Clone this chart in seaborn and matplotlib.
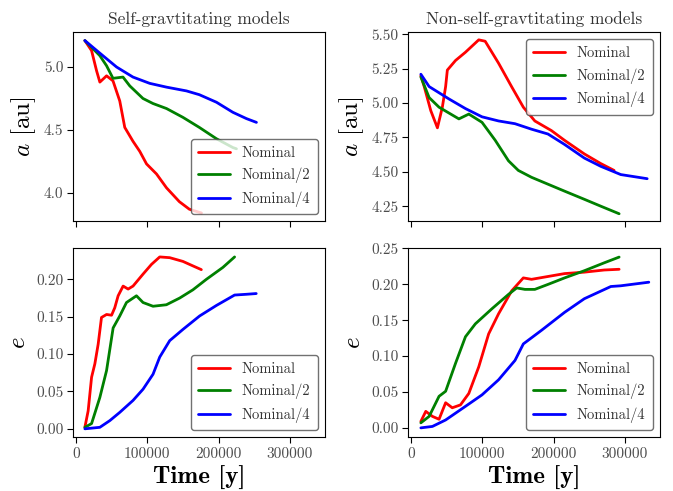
import numpy as np
import pandas as pd
import matplotlib
matplotlib.use('Agg')
import matplotlib.pyplot as plt
import seaborn as sns

# ---- data ----
labels = ['Nominal', 'Nominal/2', 'Nominal/4']
colors = ['red', 'green', 'blue']

# Self-gravitating, semi-major axis
sg_a_t_nom = [12600, 22000, 29000, 33600, 43000, 52000, 61500, 68500, 80000, 89500,
              99000, 113000, 127000, 145000, 159000, 176000]
sg_a_nom = [5.21, 5.13, 4.97, 4.88, 4.93, 4.89, 4.73, 4.52, 4.41, 4.33,
            4.23, 4.15, 4.04, 3.93, 3.87, 3.84]
sg_a_t_half = [12600, 33600, 43000, 52000, 66000, 75500, 94000, 108000, 127000, 150000,
               173000, 197000, 220000, 225000]
sg_a_half = [5.21, 5.09, 5.01, 4.91, 4.92, 4.85, 4.75, 4.71, 4.67, 4.60,
             4.52, 4.43, 4.36, 4.35]
sg_a_t_quart = [12600, 33600, 57000, 80000, 103500, 127000, 155000, 173000, 197000, 220000,
                239000, 253000]
sg_a_quart = [5.21, 5.11, 5.00, 4.92, 4.87, 4.84, 4.81, 4.78, 4.72, 4.64, 4.59, 4.56]

# Non-self-gravitating, semi-major axis
nsg_a_t_nom = [13900, 18600, 27800, 37100, 44000, 48600, 51000, 62500, 76400, 95000,
               104000, 122800, 141000, 157500, 173600, 196800, 215000, 243000, 266000, 284700]
nsg_a_nom = [5.20, 5.12, 4.945, 4.82, 4.97, 5.12, 5.24, 5.31, 5.37, 5.46,
             5.45, 5.29, 5.12, 4.97, 4.87, 4.80, 4.73, 4.63, 4.56, 4.51]
nsg_a_t_half = [13900, 25500, 39400, 67200, 81100, 99600, 118000, 136700, 150500, 169000,
                192000, 215000, 243000, 266000, 291700]
nsg_a_half = [5.19, 5.04, 4.97, 4.885, 4.92, 4.86, 4.73, 4.58, 4.51, 4.46,
              4.41, 4.36, 4.30, 4.25, 4.195]
nsg_a_t_quart = [13900, 25500, 53300, 76400, 99600, 122800, 145800, 169000, 192000, 215000,
                 243000, 266000, 294000, 331000]
nsg_a_quart = [5.21, 5.12, 5.03, 4.96, 4.90, 4.87, 4.85, 4.81, 4.775, 4.70,
               4.60, 4.54, 4.48, 4.45]

# Self-gravitating, eccentricity
sg_e_t_nom = [12600, 17200, 22000, 26600, 31200, 35900, 43000, 50000, 54500, 59200,
              66200, 73200, 80100, 94100, 105900, 117500, 131500, 150000, 164000, 175800]
sg_e_nom = [0.002, 0.024, 0.069, 0.087, 0.113, 0.149, 0.153, 0.152, 0.162, 0.178,
            0.191, 0.187, 0.191, 0.207, 0.220, 0.230, 0.229, 0.224, 0.218, 0.213]
sg_e_t_half = [12600, 22000, 33600, 43000, 52200, 61500, 70900, 84900, 94100, 108100,
               126800, 145500, 164000, 182800, 206000, 222400]
sg_e_half = [0.002, 0.007, 0.042, 0.078, 0.135, 0.151, 0.169, 0.178, 0.169, 0.164,
             0.166, 0.175, 0.186, 0.200, 0.216, 0.230]
sg_e_t_quart = [12600, 33600, 47600, 61500, 80100, 94100, 108100, 117500, 131500, 150000,
                173400, 196800, 222400, 238700, 252700]
sg_e_quart = [0.0, 0.002, 0.011, 0.022, 0.038, 0.053, 0.073, 0.096, 0.118, 0.133,
              0.151, 0.165, 0.179, 0.180, 0.181]

# Non-self-gravitating, eccentricity
nsg_e_t_nom = [13900, 20800, 30100, 39400, 48600, 57900, 69400, 81100, 95000, 108900,
               122800, 141200, 157500, 169000, 192200, 215300, 243000, 270800, 291700]
nsg_e_nom = [0.009, 0.023, 0.016, 0.012, 0.035, 0.028, 0.032, 0.048, 0.085, 0.131,
             0.159, 0.191, 0.209, 0.207, 0.211, 0.215, 0.217, 0.220, 0.221]
nsg_e_t_half = [13900, 25500, 39400, 48600, 62500, 76400, 90300, 113500, 136700, 148200,
                159700, 173600, 192200, 215300, 243000, 270800, 291700]
nsg_e_half = [0.007, 0.016, 0.044, 0.051, 0.090, 0.127, 0.145, 0.166, 0.186, 0.195,
              0.193, 0.193, 0.200, 0.209, 0.219, 0.230, 0.238]
nsg_e_t_quart = [13900, 30100, 48600, 76400, 99600, 122800, 145800, 157500, 183000, 215300,
                 243000, 280100, 294000, 333300]
nsg_e_quart = [0.0, 0.002, 0.011, 0.030, 0.046, 0.067, 0.094, 0.117, 0.136, 0.161,
               0.180, 0.197, 0.198, 0.203]

xticks = [0, 100000, 200000, 300000]


def to_frame(series):
    rows = []
    for lab, (t, v) in zip(labels, series):
        for ti, vi in zip(t, v):
            rows.append({'time': ti, 'val': vi, 'model': lab})
    return pd.DataFrame(rows)


panels = [
    (0, 0, to_frame([(sg_a_t_nom, sg_a_nom), (sg_a_t_half, sg_a_half), (sg_a_t_quart, sg_a_quart)]),
     (3.774, 5.278), [4.0, 4.5, 5.0], '%.1f', 'lower right'),
    (0, 1, to_frame([(nsg_a_t_nom, nsg_a_nom), (nsg_a_t_half, nsg_a_half), (nsg_a_t_quart, nsg_a_quart)]),
     (4.14, 5.517), [4.25, 4.5, 4.75, 5.0, 5.25, 5.5], '%.2f', 'upper right'),
    (1, 0, to_frame([(sg_e_t_nom, sg_e_nom), (sg_e_t_half, sg_e_half), (sg_e_t_quart, sg_e_quart)]),
     (-0.0116, 0.2417), [0.0, 0.05, 0.1, 0.15, 0.2], '%.2f', 'lower right'),
    (1, 1, to_frame([(nsg_e_t_nom, nsg_e_nom), (nsg_e_t_half, nsg_e_half), (nsg_e_t_quart, nsg_e_quart)]),
     (-0.0134, 0.2504), [0.0, 0.05, 0.1, 0.15, 0.2, 0.25], '%.2f', 'lower right'),
]

sns.set_theme(style='ticks', rc={'axes.edgecolor': 'black', 'xtick.color': '0.3',
                                  'ytick.color': '0.3', 'text.color': '0.2'})
plt.rcParams['font.family'] = ['cmr10', 'DejaVu Serif']
plt.rcParams['mathtext.fontset'] = 'cm'
plt.rcParams['axes.formatter.use_mathtext'] = True
plt.rcParams['axes.unicode_minus'] = False

fig, axes = plt.subplots(2, 2, figsize=(6.73, 4.91), dpi=100, sharex=True)
fig.subplots_adjust(left=0.1085, right=0.9807, top=0.9348, bottom=0.109,
                    wspace=0.33, hspace=0.142)

for r, c, df, ylim, yt, fmt, loc in panels:
    ax = axes[r, c]
    sns.lineplot(data=df, x='time', y='val', hue='model', palette=colors,
                 linewidth=2, ax=ax, sort=False, estimator=None)
    ax.set_xlim(-4000, 349000)
    ax.set_ylim(*ylim)
    ax.set_yticks(yt)
    ax.set_yticklabels([fmt % v for v in yt], fontsize=11)
    ax.set_xticks(xticks)
    ax.set_xticklabels([str(v) for v in xticks], fontsize=11)
    ax.tick_params(length=4, width=0.8, color='black', pad=3)
    for s in ax.spines.values():
        s.set_linewidth(0.8)
    leg = ax.legend(loc=loc, fontsize=10.5, fancybox=True, framealpha=0.8,
                    edgecolor='0.3', handlelength=2.2, borderpad=0.5,
                    labelspacing=0.55)
    leg.get_frame().set_linewidth(1.0)
    ax.set_xlabel('')
    if r == 0:
        ax.set_ylabel('$a$ [au]', fontsize=18, color='black', labelpad=4)
    else:
        ax.set_ylabel('$e$', fontsize=18, color='black', labelpad=4)
        ax.set_xlabel('Time [y]', fontsize=18, family='cmb10', color='black', labelpad=4)

axes[0, 0].set_title('Self-gravtitating models', fontsize=12.5, pad=6)
axes[0, 1].set_title('Non-self-gravtitating models', fontsize=12.5, pad=6)

fig.savefig('out.png', dpi=100)
